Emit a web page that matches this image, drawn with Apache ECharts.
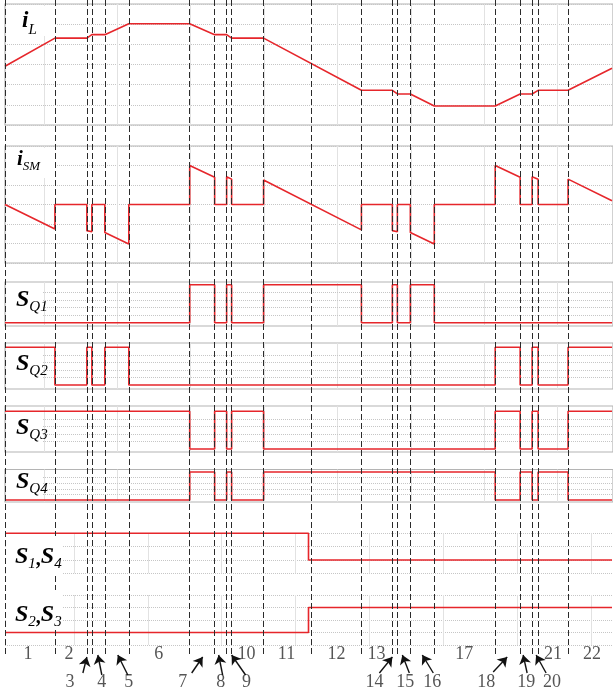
<!DOCTYPE html>
<html><head><meta charset="utf-8">
<script src="https://cdn.jsdelivr.net/npm/echarts@6/dist/echarts.min.js"></script>
<style>html,body{margin:0;padding:0;background:#fff}#c{width:613px;height:693px}</style>
</head><body><div id="c"></div>
<script>
// ---- data (time axis in the figure's horizontal units) ----
const boundaries = [5,55,87,92,105,129,190,215,227,232,264,312,362,393,398,411,435,496,521,533,539,569];
const iL = [[5,2.91],[55,4.31],[87,4.31],[92,4.48],[105,4.48],[129,5.02],[190,5.02],[215,4.48],[227,4.48],[232,4.31],[264,4.31],
  [362,1.72],[393,1.72],[398,1.54],[411,1.54],[435,0.94],[496,0.94],[521,1.54],[533,1.54],[539,1.72],[569,1.72],[613,2.81]];
const iSM = [[5,0],[55,-1.26],[55,0],[87,0],[87,-1.34],[92,-1.40],[92,0],[105,0],[105,-1.44],[129,-2.03],[129,0],[190,0],
  [190,2.0],[215,1.40],[215,0],[227,0],[227,1.42],[232,1.30],[232,0],[264,0],[264,1.26],[362,-1.30],[362,0],[393,0],
  [393,-1.34],[398,-1.40],[398,0],[411,0],[411,-1.44],[435,-2.03],[435,0],[496,0],[496,2.0],[521,1.40],[521,0],[533,0],
  [533,1.42],[539,1.30],[539,0],[569,0],[569,1.30],[613,0.19]];
const sQ1 = [[5,0],[190,1],[215,0],[227,1],[232,0],[264,1],[362,0],[393,1],[398,0],[411,1],[435,0],[613,0]];
const sQ2 = [[5,1],[55,0],[87,1],[92,0],[105,1],[129,0],[496,1],[521,0],[533,1],[539,0],[569,1],[613,1]];
const sQ3 = [[5,1],[190,0],[215,1],[227,0],[232,1],[264,0],[496,1],[521,0],[533,1],[539,0],[569,1],[613,1]];
const sQ4 = [[5,0],[190,1],[215,0],[227,1],[232,0],[264,1],[496,0],[521,1],[533,0],[539,1],[569,0],[613,0]];
const s14 = [[5,1],[309,0],[613,0]];
const s23 = [[5,0],[309,1],[613,1]];
const labelsTop = ['1','2','6','10','11','12','13','17','21','22'];
const labelsTopX = [28,69,159,247,287,337,377,465,554,593];
const labelsBottom = ['3','4','5','7','8','9','14','15','16','18','19','20'];
const labelsBottomX = [70,102,129,183,221,247,375,406,433,487,527,553];
const arrowTail = [[83,673],[102,675],[128,675],[192,673],[223,675],[246,675],[380,673],[410,673],[434,673],[494,672],[528,673],[547,673]];
const arrowHead = [[87,657],[98,655],[118,655],[203,657],[219,655],[232,655],[393,657],[403,655],[423,655],[508,657],[524,655],[537,655]];

// ---- layout / style ----
const RED = '#e6262b';
const BORDER = '#b4b4b4';
const DOT = '#c6c6c6';
const FAINT = '#e2e2e2';
const X0 = 5, X1 = 614;
const faintA = []; for (let x = 44; x < 613; x += 73.5) faintA.push(x);
const faintB = []; for (let x = 74; x < 613; x += 74) faintB.push(x);

const panels = [
  {top:4, h:121, min:0, max:6, interval:1, data:iL, step:false, border:true, split:true, faint:faintA},
  {top:146, h:117, min:-3, max:3, interval:1, data:iSM, step:false, border:true, split:true, faint:faintA},
  {top:282, h:44, min:-0.087, max:1.071, data:sQ1, step:true, border:true, dots:true, faint:faintA},
  {top:343, h:46, min:-0.106, max:1.114, data:sQ2, step:true, border:true, dots:true, faint:faintA},
  {top:406, h:46, min:-0.08, max:1.14, data:sQ3, step:true, border:true, dots:true, faint:faintA},
  {top:469.5, h:32.5, min:-0.071, max:1.089, data:sQ4, step:true, border:true, dots:true, faint:faintA},
  {top:533.3, h:40, min:-0.5, max:1, interval:0.5, data:s14, step:true, border:false, split:true, faint:faintB},
  {top:595, h:50, min:-0.5, max:1.5, interval:0.5, data:s23, step:true, border:false, split:true, faint:faintB}
];

const grid = [], xAxis = [], yAxis = [], series = [];
panels.forEach((p, i) => {
  grid.push({left:X0, width:X1-X0, top:p.top, height:p.h, show:p.border, borderColor:BORDER, borderWidth:1.2, backgroundColor:'transparent'});
  xAxis.push({gridIndex:i, type:'value', min:X0, max:X1, show:false});
  yAxis.push({gridIndex:i, type:'value', min:p.min, max:p.max, interval:p.interval, show:!!p.split,
    axisLine:{show:false}, axisTick:{show:false}, axisLabel:{show:false},
    splitLine:{show:!!p.split, lineStyle:{type:'dotted', color:DOT, width:1}}});
  const ml = p.faint.map(x => ({xAxis:x, lineStyle:{color:FAINT, type:'solid', width:1}}));
  if (p.dots) [0.2,0.4,0.6,0.8].forEach(v => ml.push({yAxis:v, lineStyle:{color:DOT, type:'dotted', width:1}}));
  series.push({type:'line', xAxisIndex:i, yAxisIndex:i, data:p.data, step:p.step ? 'end' : false,
    symbol:'none', clip:false, z:3, lineStyle:{color:RED, width:1.6}, animation:false,
    markLine:{silent:true, symbol:'none', label:{show:false}, z:1, animation:false, data:ml}});
});

// full-height overlay grid: value = pixel
const G = panels.length;
grid.push({left:X0, width:X1-X0, top:0, height:693, show:false});
xAxis.push({gridIndex:G, type:'value', min:X0, max:X1, show:false});
yAxis.push({gridIndex:G, type:'value', min:0, max:693, inverse:true, show:false});
series.push({type:'line', xAxisIndex:G, yAxisIndex:G, data:[], animation:false,
  markLine:{silent:true, symbol:'none', label:{show:false}, animation:false, z:10,
    lineStyle:{color:'#2b2b2b', type:[6,3], width:1},
    data: boundaries.map(b => [{coord:[b,0]},{coord:[b,655]}])}});
series.push({type:'line', xAxisIndex:G, yAxisIndex:G, data:[], animation:false,
  markLine:{silent:true, symbol:['none','arrow'], symbolSize:9, label:{show:false}, animation:false, z:10,
    lineStyle:{color:'#111', type:'solid', width:1.4},
    data: arrowTail.map((t, k) => [{coord:t},{coord:arrowHead[k]}])}});
const lblData = labelsTop.map((s, k) => ({name:s, value:[labelsTopX[k], 654]}))
  .concat(labelsBottom.map((s, k) => ({name:s, value:[labelsBottomX[k], 682]})));
series.push({type:'scatter', xAxisIndex:G, yAxisIndex:G, data:lblData, symbolSize:1, animation:false, silent:true,
  itemStyle:{color:'transparent'},
  label:{show:true, position:'inside', formatter:'{b}', fontFamily:'Liberation Serif', fontSize:18, color:'#2a2a2a'}});

// panel name labels
const F = 'Liberation Serif';
const rich = {
  m:{fontFamily:F, fontSize:24, fontStyle:'italic', fontWeight:'bold', color:'#000', lineHeight:24, verticalAlign:'bottom', padding:[0,0,3,0]},
  i:{fontFamily:F, fontSize:23, fontStyle:'italic', fontWeight:'bold', color:'#000', lineHeight:24, verticalAlign:'bottom', padding:[0,0,5,0]},
  j:{fontFamily:F, fontSize:21, fontStyle:'italic', fontWeight:'bold', color:'#000', lineHeight:22, verticalAlign:'bottom', padding:[0,0,3,0]},
  s:{fontFamily:F, fontSize:15, fontStyle:'italic', color:'#000', lineHeight:13, verticalAlign:'bottom'},
  t:{fontFamily:F, fontSize:13, fontStyle:'italic', color:'#000', lineHeight:12, verticalAlign:'bottom'},
  c:{fontFamily:F, fontSize:20, fontWeight:'bold', color:'#000', lineHeight:20, verticalAlign:'bottom', padding:[0,0,2,0]}
};
const names = [
  {text:'{i|i}{s|L}', x:22, y:14, box:[6,6,48,30]},
  {text:'{j|i}{t|SM}', x:17, y:151, box:[6,148,49,30]},
  {text:'{m|S}{s|Q1}', x:16, y:291, box:[6,285,37,36]},
  {text:'{m|S}{s|Q2}', x:16, y:355, box:[6,350,37,33]},
  {text:'{m|S}{s|Q3}', x:16, y:419, box:[6,414,37,33]},
  {text:'{m|S}{s|Q4}', x:16, y:473, box:[6,474,37,24]},
  {text:'{m|S}{s|1}{c|,}{m|S}{s|4}', x:15, y:548, box:[6,536,57,38]},
  {text:'{m|S}{s|2}{c|,}{m|S}{s|3}', x:15, y:606, box:[6,590,57,40]}
];
const graphic = [];
names.forEach(n => {
  graphic.push({type:'rect', shape:{x:n.box[0], y:n.box[1], width:n.box[2], height:n.box[3]}, style:{fill:'#fff'}, z:100, silent:true});
  graphic.push({type:'text', x:n.x, y:n.y, z:101, silent:true, style:{text:n.text, rich:rich, align:'left', verticalAlign:'top'}});
});

const chart = echarts.init(document.getElementById('c'), null, {renderer:'canvas'});
chart.setOption({animation:false, backgroundColor:'#fff', grid, xAxis, yAxis, series, graphic});
</script></body></html>
